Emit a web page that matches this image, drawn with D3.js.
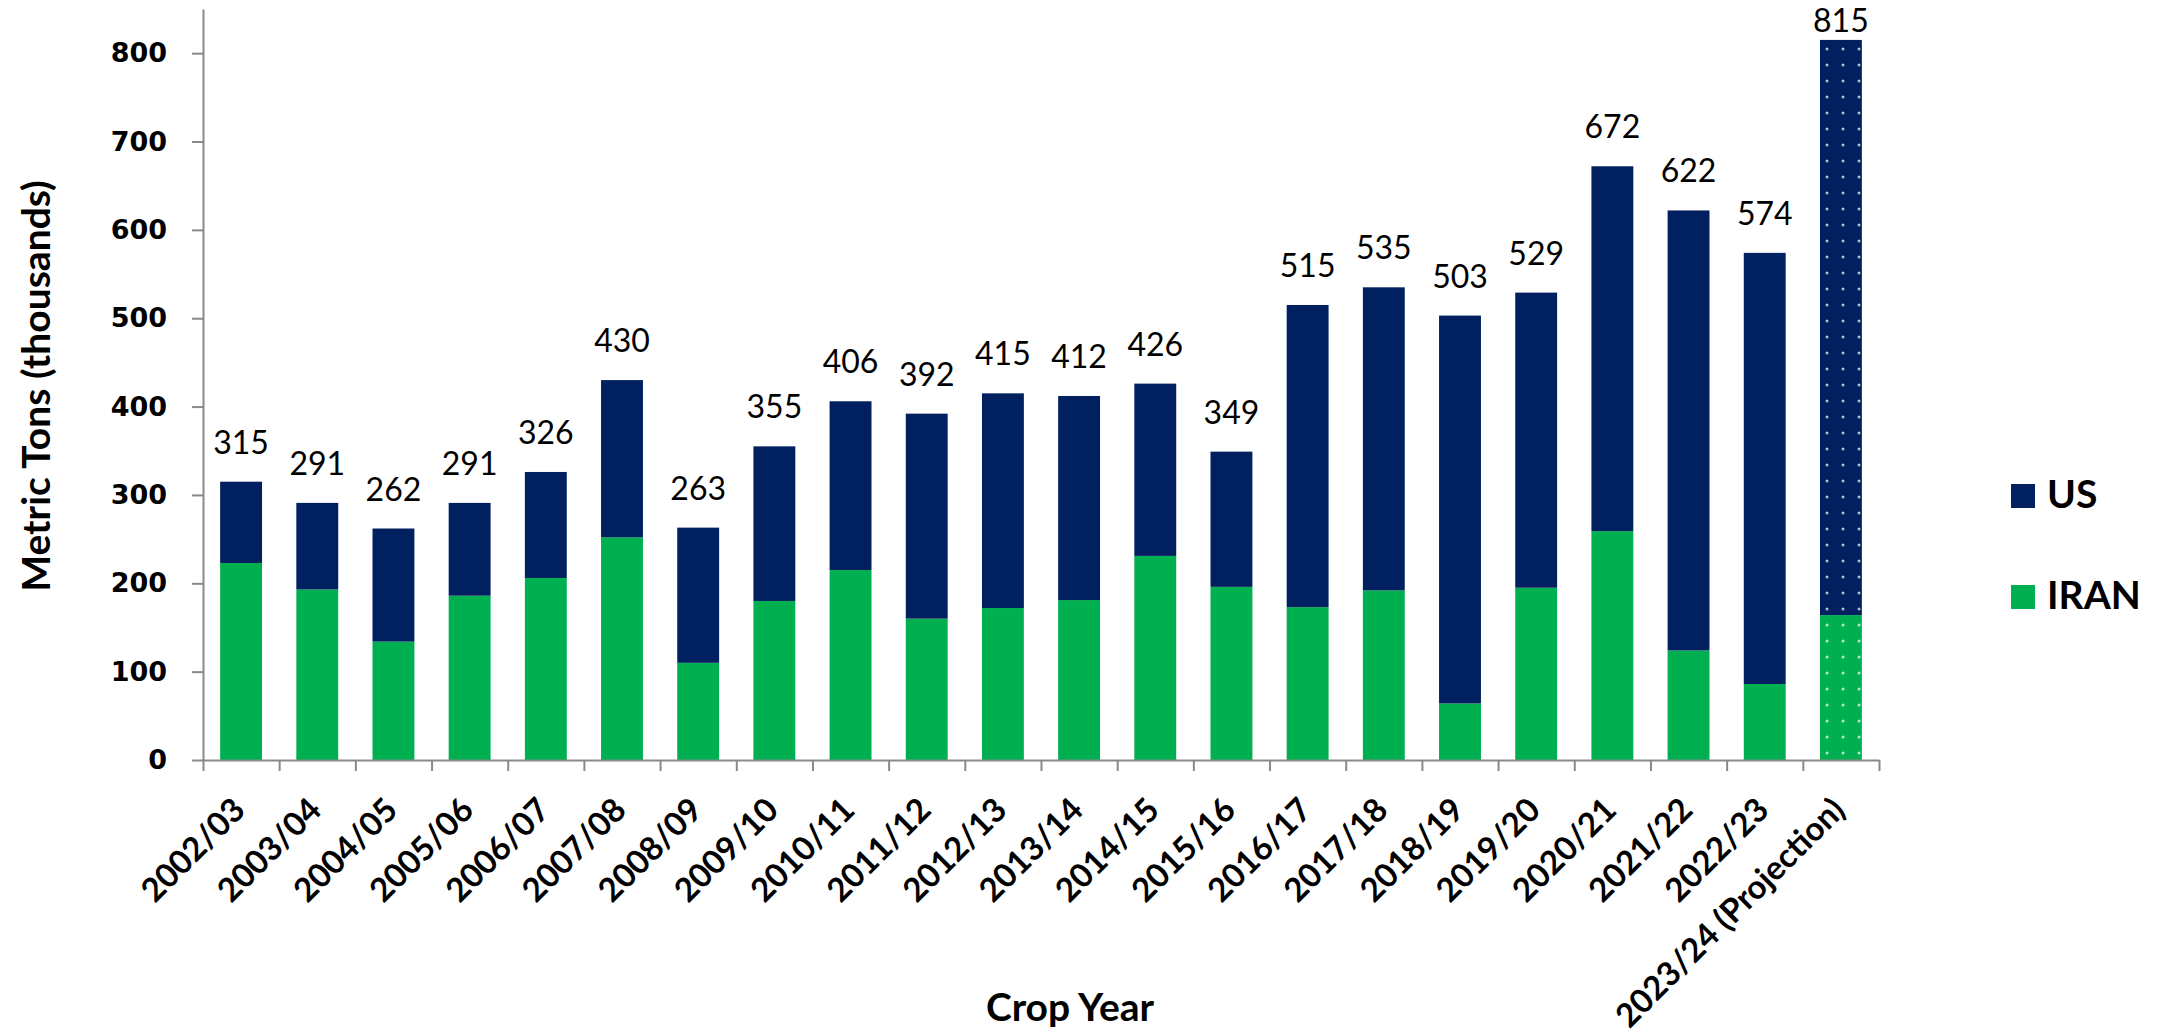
<!DOCTYPE html>
<meta charset="utf-8">
<style>
    body {
        margin: 0;
        background: #fff;
    }

    svg {
        font-family: Lato, "Open Sans", sans-serif;
    }

    .axis path,
    .axis line {
        fill: none;
        stroke: #898989;
        stroke-width: 2;
    }
</style>
<body>
<script src="https://d3js.org/d3.v7.min.js"></script>
<script>
    // crop years and the two origins (thousand metric tons)
    const years = ['2002/03', '2003/04', '2004/05', '2005/06', '2006/07', '2007/08', '2008/09',
        '2009/10', '2010/11', '2011/12', '2012/13', '2013/14', '2014/15', '2015/16', '2016/17',
        '2017/18', '2018/19', '2019/20', '2020/21', '2021/22', '2022/23', '2023/24 (Projection)'];
    const iranValues = [223, 193, 134, 186, 206, 252, 110, 180, 215, 160, 172, 181,
        231, 196, 173, 192, 64, 195, 259, 124, 86, 164];
    const usValues = [92, 98, 128, 105, 120, 178, 153, 175, 191, 232, 243, 231,
        195, 153, 342, 343, 439, 334, 413, 498, 488, 651];
    const totals = [315, 291, 262, 291, 326, 430, 263, 355, 406, 392, 415, 412,
        426, 349, 515, 535, 503, 529, 672, 622, 574, 815];
    const yTicks = [0, 100, 200, 300, 400, 500, 600, 700, 800];
    const seriesKeys = ['iran', 'us'];
    const legendLabels = ['US', 'IRAN'];
    const projected = '2023/24 (Projection)';

    const width = 2161;
    const height = 1034;
    const plot = {left: 203, right: 1879, top: 9, bottom: 760};

    const colors = {us: '#002060', iran: '#00B050'};

    const table = years.map((y, i) => ({year: y, iran: iranValues[i], us: usValues[i], total: totals[i]}));

    const svg = d3.select('body')
        .append('svg')
        .attr('width', width)
        .attr('height', height);

    // dotted fill for the projection bar
    const defs = svg.append('defs');
    seriesKeys.forEach(k => {
        const p = defs.append('pattern')
            .attr('id', 'dots-' + k)
            .attr('patternUnits', 'userSpaceOnUse')
            .attr('x', -5).attr('y', -7)
            .attr('width', 16).attr('height', 16);
        p.append('rect').attr('width', 16).attr('height', 16).attr('fill', colors[k]);
        p.append('circle').attr('cx', 8).attr('cy', 8).attr('r', 1.5)
            .attr('fill', '#ffffff').attr('fill-opacity', 0.7);
    });

    const x = d3.scaleBand()
        .domain(years)
        .range([plot.left, plot.right])
        .paddingInner(0.45)
        .paddingOuter(0.225);

    const xEdges = d3.scaleLinear()
        .domain([0, years.length])
        .range([plot.left, plot.right]);

    const y = d3.scaleLinear()
        .domain([0, 850])
        .range([plot.bottom, plot.top]);

    const stacked = d3.stack().keys(seriesKeys)(table);

    svg.append('g')
        .selectAll('g')
        .data(stacked)
        .enter().append('g')
        .each(function (s) {
            d3.select(this).selectAll('rect')
                .data(s)
                .enter().append('rect')
                .attr('x', d => x(d.data.year))
                .attr('width', x.bandwidth())
                .attr('y', d => y(d[1]))
                .attr('height', d => y(d[0]) - y(d[1]))
                .attr('fill', d => d.data.year === projected ? 'url(#dots-' + s.key + ')' : colors[s.key]);
        });

    // total labels above bars
    svg.append('g')
        .selectAll('text')
        .data(table)
        .enter().append('text')
        .attr('x', d => x(d.year) + x.bandwidth() / 2)
        .attr('y', d => Math.max(y(d.total) - 28, 32))
        .attr('text-anchor', 'middle')
        .style('font-size', '32px')
        .attr('fill', '#000')
        .text(d => d.total);

    // y axis
    const yAxis = svg.append('g')
        .attr('class', 'axis')
        .attr('transform', 'translate(' + plot.left + ',0)')
        .call(d3.axisLeft(y).tickValues(yTicks).tickSize(11).tickSizeOuter(0).tickPadding(25));
    yAxis.selectAll('text')
        .style('font-family', '"DejaVu Sans", Verdana, sans-serif')
        .style('font-weight', 'bold')
        .style('font-size', '27px')
        .attr('fill', '#000');

    // x axis: boundary ticks
    svg.append('g')
        .attr('class', 'axis')
        .attr('transform', 'translate(0,' + plot.bottom + ')')
        .call(d3.axisBottom(xEdges).tickValues(d3.range(years.length + 1)).tickSize(11)
            .tickSizeOuter(0).tickFormat(''));

    // x axis: rotated category labels
    const xLabels = svg.append('g')
        .attr('transform', 'translate(0,' + plot.bottom + ')')
        .call(d3.axisBottom(x).tickSize(0).tickPadding(0));
    xLabels.select('.domain').remove();
    xLabels.selectAll('text')
        .attr('y', 0)
        .attr('dy', 0)
        .attr('text-anchor', 'end')
        .attr('transform', 'translate(6,52) rotate(-45)')
        .style('font-family', 'Lato, sans-serif')
        .style('font-weight', 'bold')
        .style('font-size', '33px')
        .attr('fill', '#000');

    // axis titles
    svg.append('text')
        .attr('transform', 'translate(50,386) rotate(-90)')
        .attr('text-anchor', 'middle')
        .style('font-weight', 'bold')
        .style('font-size', '39px')
        .text('Metric Tons (thousands)');

    svg.append('text')
        .attr('x', 1070)
        .attr('y', 1021)
        .attr('text-anchor', 'middle')
        .style('font-weight', 'bold')
        .style('font-size', '39px')
        .text('Crop Year');

    // legend
    const legend = svg.selectAll('.legend')
        .data(['us', 'iran'])
        .enter().append('g')
        .attr('class', 'legend')
        .attr('transform', (d, i) => 'translate(2011,' + (484 + i * 101) + ')');

    legend.append('rect')
        .attr('width', 24)
        .attr('height', 24)
        .attr('fill', d => colors[d]);

    legend.append('text')
        .attr('x', 36)
        .attr('y', 24)
        .style('font-weight', 'bold')
        .style('font-size', '39px')
        .text((d, i) => legendLabels[i]);
</script>
</body>
